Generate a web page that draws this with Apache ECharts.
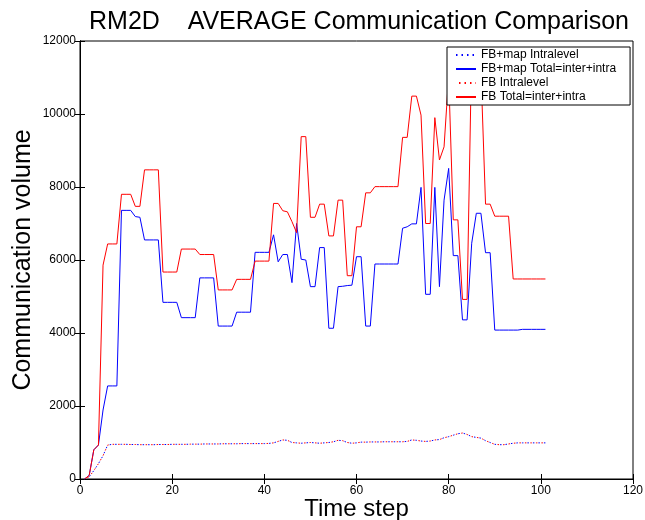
<!DOCTYPE html>
<html>
<head>
<meta charset="utf-8">
<script src="https://cdn.jsdelivr.net/npm/echarts@6/dist/echarts.min.js"></script>
<style>
  html, body { margin: 0; padding: 0; background: #fff; }
  #chart { width: 645px; height: 520px; }
</style>
</head>
<body>
<div id="chart"></div>
<script>
// values per time step, starting at step 1
const fbMapIntra = [
  0, 60, 230, 420, 640, 930, 950, 950, 950, 950,
  945, 945, 940, 940, 940, 940, 945, 945, 945, 950,
  950, 950, 950, 955, 955, 955, 960, 960, 960, 960,
  965, 965, 965, 965, 970, 970, 970, 970, 970, 970,
  975, 990, 1030, 1070, 1060, 1000, 990, 980, 990, 1000,
  990, 980, 990, 1000, 1020, 1060, 1050, 1000, 980, 990,
  1010, 1010, 1015, 1015, 1015, 1020, 1020, 1020, 1020, 1020,
  1030, 1070, 1060, 1040, 1030, 1040, 1070, 1080, 1130, 1160,
  1200, 1240, 1260, 1220, 1160, 1140, 1120, 1050, 1000, 950,
  940, 940, 960, 980, 990, 990, 990, 990, 990, 990,
  990
]
const fbMapTotal = [
  0, 100, 800, 930, 1890, 2550, 2550, 2550, 7360, 7360,
  7360, 7190, 7170, 6550, 6550, 6550, 6550, 4840, 4840, 4840,
  4840, 4420, 4420, 4420, 4420, 5510, 5510, 5510, 5510, 4190,
  4190, 4190, 4190, 4570, 4570, 4570, 4570, 6210, 6210, 6210,
  6210, 6690, 5950, 6150, 6150, 5380, 7000, 6020, 6000, 5270,
  5270, 6340, 6340, 4130, 4130, 5270, 5280, 5300, 5310, 6090,
  6090, 4190, 4190, 5890, 5890, 5890, 5890, 5890, 5890, 6870,
  6910, 6990, 6990, 7990, 5060, 5060, 7990, 5270, 7640, 8510,
  6120, 6120, 4360, 4360, 6460, 7280, 7280, 6200, 6200, 4080,
  4080, 4080, 4080, 4080, 4080, 4100, 4100, 4100, 4100, 4100,
  4100
]
const fbIntra = fbMapIntra.slice()
const fbTotal = [
  0, 100, 800, 930, 5860, 6440, 6440, 6440, 7800, 7800,
  7800, 7470, 7470, 8470, 8470, 8470, 8470, 5670, 5670, 5670,
  5670, 6300, 6300, 6300, 6300, 6150, 6150, 6150, 6150, 5180,
  5180, 5180, 5180, 5470, 5470, 5470, 5470, 5970, 5970, 5970,
  5970, 7550, 7550, 7350, 7320, 7050, 6750, 9380, 9380, 7170,
  7170, 7530, 7530, 6660, 6660, 7640, 7640, 5570, 5570, 6910,
  6910, 7840, 7840, 8010, 8010, 8010, 8010, 8010, 8010, 9360,
  9360, 10490, 10490, 9970, 7000, 7000, 9900, 8740, 9100, 11050,
  7100, 7100, 4920, 4920, 11800, 11600, 11200, 7530, 7530, 7200,
  7200, 7200, 7200, 5480, 5480, 5480, 5480, 5480, 5480, 5480,
  5480
]
const xTicks = { min: 0, max: 120, interval: 20 }
const yTicks = { min: 0, max: 12000, interval: 2000 }

const toPairs = arr => arr.map((v, i) => [i + 1, v])
const font = 'Liberation Sans, Arial, Helvetica, sans-serif'

const chart = echarts.init(document.getElementById('chart'))

const baseAxis = {
  type: 'value',
  axisLine: { show: true, lineStyle: { color: '#000', width: 1 } },
  axisTick: { show: true, inside: true, length: 5, lineStyle: { color: '#000' } },
  splitLine: { show: false }
}

const option = {
  animation: false,
  textStyle: { fontFamily: font },
  title: {
    text: 'RM2D    AVERAGE Communication Comparison',
    left: 354,
    textAlign: 'center',
    top: 5,
    textStyle: { fontSize: 25, fontWeight: 'normal', color: '#000', fontFamily: font }
  },
  grid: {
    left: 80, top: 41, right: 12, bottom: 41,
    containLabel: false, outerBoundsMode: 'none',
    show: true, borderColor: '#000', borderWidth: 1
  },
  legend: {
    orient: 'vertical',
    left: 447,
    top: 47,
    padding: [2, 14, 2, 8],
    itemGap: 2,
    itemWidth: 20,
    itemHeight: 10,
    itemStyle: { opacity: 0 },
    backgroundColor: '#fff',
    borderColor: '#000',
    borderWidth: 1,
    textStyle: { fontSize: 12, color: '#000', fontFamily: font },
    data: ['FB+map Intralevel', 'FB+map Total=inter+intra', 'FB Intralevel', 'FB Total=inter+intra']
  },
  xAxis: [
    Object.assign({}, baseAxis, xTicks, {
      position: 'bottom',
      axisLabel: { color: '#000', fontSize: 12, margin: 6 },
      name: 'Time step',
      nameLocation: 'middle',
      nameGap: 18,
      nameMoveOverlap: false,
      nameTextStyle: { fontSize: 24, color: '#000', verticalAlign: 'top' }
    }),
    Object.assign({}, baseAxis, xTicks, { position: 'top', axisLabel: { show: false } })
  ],
  yAxis: [
    Object.assign({}, baseAxis, yTicks, {
      position: 'left',
      axisLabel: { color: '#000', fontSize: 12, margin: 4, formatter: v => String(v) },
      name: 'Communication volume',
      nameLocation: 'middle',
      nameGap: 44,
      nameMoveOverlap: false,
      nameTextStyle: { fontSize: 25, color: '#000' }
    }),
    Object.assign({}, baseAxis, yTicks, { position: 'right', axisLabel: { show: false } })
  ],
  series: [
    {
      name: 'FB+map Intralevel', type: 'line', showSymbol: false, symbol: 'none',
      data: toPairs(fbMapIntra),
      itemStyle: { color: '#0000ff' },
      lineStyle: { color: '#0000ff', width: 1, type: [1.5, 4] }
    },
    {
      name: 'FB+map Total=inter+intra', type: 'line', showSymbol: false, symbol: 'none',
      data: toPairs(fbMapTotal),
      itemStyle: { color: '#0000ff' },
      lineStyle: { color: '#0000ff', width: 1 }
    },
    {
      name: 'FB Intralevel', type: 'line', showSymbol: false, symbol: 'none',
      data: toPairs(fbIntra),
      itemStyle: { color: '#ff0000' },
      lineStyle: { color: '#ff0000', width: 1, type: [1.5, 4], dashOffset: 2.5 }
    },
    {
      name: 'FB Total=inter+intra', type: 'line', showSymbol: false, symbol: 'none',
      data: toPairs(fbTotal),
      itemStyle: { color: '#ff0000' },
      lineStyle: { color: '#ff0000', width: 1 }
    }
  ]
}

chart.setOption(option)
</script>
</body>
</html>
